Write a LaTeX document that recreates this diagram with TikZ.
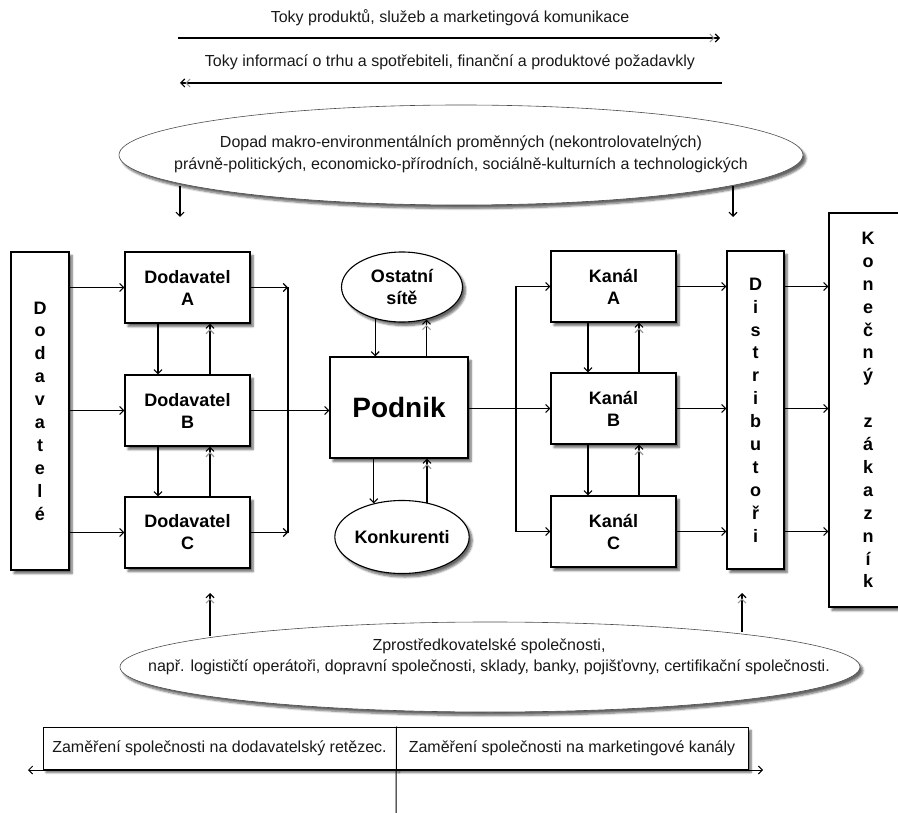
\documentclass[tikz,border=0pt]{standalone}
\usepackage{fontspec}
\setmainfont{Liberation Sans}
\usetikzlibrary{arrows.meta,shapes.geometric,shadows.blur,calc}

\begin{document}
\begin{tikzpicture}[x=1pt,y=-1pt,
  softshadow/.style={blur shadow={shadow xshift=3pt,shadow yshift=-3.5pt,shadow blur steps=6,shadow opacity=60}},
  box/.style={draw,line width=1.3pt,fill=white,softshadow,minimum width=125pt,minimum height=71pt,
    inner sep=0pt,align=center,font=\fontsize{18}{22}\bfseries\selectfont},
  vbox/.style={draw,line width=1.3pt,fill=white,softshadow,inner sep=0pt,align=center,
    font=\fontsize{18}{22.9}\bfseries\selectfont},
  oval/.style={ellipse,draw,line width=1.1pt,fill=white,softshadow,minimum width=121pt,minimum height=70pt,
    inner sep=0pt,align=center,font=\fontsize{18}{22}\bfseries\selectfont},
  bigoval/.style={ellipse,draw=black!70,line width=0.6pt,fill=white,softshadow,inner sep=0pt},
  plain/.style={inner sep=0pt,align=center,text=black!90,font=\fontsize{16}{22}\selectfont},
  focus/.style={draw,line width=1pt,fill=white,softshadow,minimum height=42pt,inner sep=0pt,
    text=black!90,font=\fontsize{16}{20}\selectfont},
  conn/.style={line width=1.1pt},
  arr/.style={line width=1.1pt,-{Straight Barb[length=4pt,width=8pt]}},
  arrg/.style={line width=1.1pt,-{Straight Barb[length=4pt,width=8pt,color=black!40] Straight Barb[length=4pt,width=8pt]}},
  garr/.style={line width=1.1pt,{Straight Barb[length=4pt,width=8pt] Straight Barb[length=4pt,width=8pt,color=black!40]}-},
  both/.style={line width=1pt,{Straight Barb[length=4pt,width=8pt]}-{Straight Barb[length=4pt,width=8pt]}}
]
\useasboundingbox (0,0) rectangle (898,813);

% flows at the top
\node[plain] (flow1) at (450,18) {Toky produktů, služeb a marketingová komunikace};
\coordinate (f1a) at (178,38);
\coordinate (f1b) at (720,38);
\draw[arrg] (f1a) -- (f1b);
\node[plain] (flow2) at (450,62) {Toky informací o trhu a spotřebiteli, finanční a produktové požadavkly};
\coordinate (f2a) at (180,83);
\coordinate (f2b) at (722,83);
\draw[garr] (f2a) -- (f2b);

% macro environment
\node[bigoval,minimum width=684pt,minimum height=100pt] (macro) at (461,155) {};
\node[plain] (macrotxt) at (461,154) {Dopad makro-environmentálních proměnných (nekontrolovatelných)\\
právně-politických, economicko-přírodních, sociálně-kulturních a technologických};
\coordinate (ma1) at (180,186);
\coordinate (mb1) at (180,217);
\coordinate (ma2) at (733,186);
\coordinate (mb2) at (733,217);
\draw[arr] (ma1) -- (mb1);
\draw[arr] (ma2) -- (mb2);

% suppliers side
\node[vbox,minimum width=58pt,minimum height=318pt] (dodv) at (40,411)
  {D\\o\\d\\a\\v\\a\\t\\e\\l\\é};
\node[box] (dA) at (187.5,287.5) {Dodavatel\\A};
\node[box] (dB) at (187.5,410.5) {Dodavatel\\B};
\node[box] (dC) at (187.5,532.5) {Dodavatel\\C};

% the company
\node[box,minimum width=138pt,minimum height=101pt,font=\fontsize{28}{34}\bfseries\selectfont] (podnik) at (399,407.5) {Podnik};
\node[oval] (ost) at (402,287) {Ostatní\\sítě};
\node[oval,minimum height=73pt] (konk) at (402,537) {Konkurenti};

% channels side
\node[box] (kA) at (613.5,286.5) {Kanál\\A};
\node[box] (kB) at (613.5,408.5) {Kanál\\B};
\node[box] (kC) at (613.5,531.5) {Kanál\\C};
\node[vbox,minimum width=57pt,minimum height=318pt] (dist) at (755.5,410)
  {D\\i\\s\\t\\r\\i\\b\\u\\t\\o\\ř\\i};
\node[vbox,minimum width=78pt,minimum height=394pt] (zak) at (868,410)
  {K\\o\\n\\e\\č\\n\\ý\\\mbox{}\\z\\á\\k\\a\\z\\n\\í\\k};

% suppliers -> supplier boxes
\draw[arr] (dodv.east |- dA) -- (dA.west);
\draw[arr] (dodv.east |- dB) -- (dB.west);
\draw[arr] (dodv.east |- dC) -- (dC.west);
\draw[arr] ($(dA.south)+(-29.5,0)$) -- ($(dB.north)+(-29.5,0)$);
\draw[arrg] ($(dB.north)+(22.5,0)$) -- ($(dA.south)+(22.5,0)$);
\draw[arr] ($(dB.south)+(-29.5,0)$) -- ($(dC.north)+(-29.5,0)$);
\draw[arrg] ($(dC.north)+(22.5,0)$) -- ($(dB.south)+(22.5,0)$);

% supplier boxes -> company
\coordinate (jl) at (288,410);
\draw[arr] (dA.east) -- (dA.east -| jl);
\draw[arr] (dC.east) -- (dC.east -| jl);
\draw[conn] (dA.east -| jl) -- (dC.east -| jl);
\draw[arr] (dB.east) -- (dB.east -| podnik.west);

% company <-> other networks and competitors
\draw[arr] (ost.230) -- (ost.230 |- podnik.north);
\draw[arrg] (ost.307 |- podnik.north) -- (ost.307);
\draw[arr] (konk.130 |- podnik.south) -- (konk.130);
\draw[arrg] (konk.54) -- (konk.54 |- podnik.south);

% company -> channels
\coordinate (kl) at (516,410);
\draw[arr] (kB.west -| podnik.east) -- (kB.west);
\draw[conn] (kl |- kA) -- (kl |- kC);
\draw[arr] (kl |- kA) -- (kA.west);
\draw[arr] (kl |- kC) -- (kC.west);
\draw[arr] ($(kA.south)+(-25.5,0)$) -- ($(kB.north)+(-25.5,0)$);
\draw[arrg] ($(kB.north)+(25.5,0)$) -- ($(kA.south)+(25.5,0)$);
\draw[arr] ($(kB.south)+(-25.5,0)$) -- ($(kC.north)+(-25.5,0)$);
\draw[arrg] ($(kC.north)+(25.5,0)$) -- ($(kB.south)+(25.5,0)$);

% channels -> distributors -> final customer
\draw[arr] (kA.east) -- (kA.east -| dist.west);
\draw[arr] (kB.east) -- (kB.east -| dist.west);
\draw[arr] (kC.east) -- (kC.east -| dist.west);
\draw[arr] (dist.east |- kA) -- (zak.west |- kA);
\draw[arr] (dist.east |- kB) -- (zak.west |- kB);
\draw[arr] (dist.east |- kC) -- (zak.west |- kC);

% intermediaries
\node[bigoval,minimum width=740pt,minimum height=90pt] (inter) at (490,667) {};
\node[plain,font=\fontsize{16}{21}\selectfont] (intertxt) at (489,657) {Zprostředkovatelské společnosti,\\
např. logističtí operátoři, dopravní společnosti, sklady, banky, pojišťovny, certifikační společnosti.};
\coordinate (ia1) at (210,636);
\coordinate (ib1) at (210,593);
\coordinate (ia2) at (742,632);
\coordinate (ib2) at (742,593);
\draw[arrg] (ia1) -- (ib1);
\draw[arrg] (ia2) -- (ib2);

% focus bar at the bottom
\node[focus,minimum width=353pt] (lfocus) at (219.5,748) {Zaměření společnosti na dodavatelský retězec.};
\node[focus,minimum width=352pt] (rfocus) at (572,748) {Zaměření společnosti na marketingové kanály};
\coordinate (hl) at (28,770);
\coordinate (hr) at (763,770);
\draw[both] (hl) -- (hr);
\coordinate (vend) at (396,813);
\draw[line width=1pt] (lfocus.north east) -- (vend);
\end{tikzpicture}
\end{document}
